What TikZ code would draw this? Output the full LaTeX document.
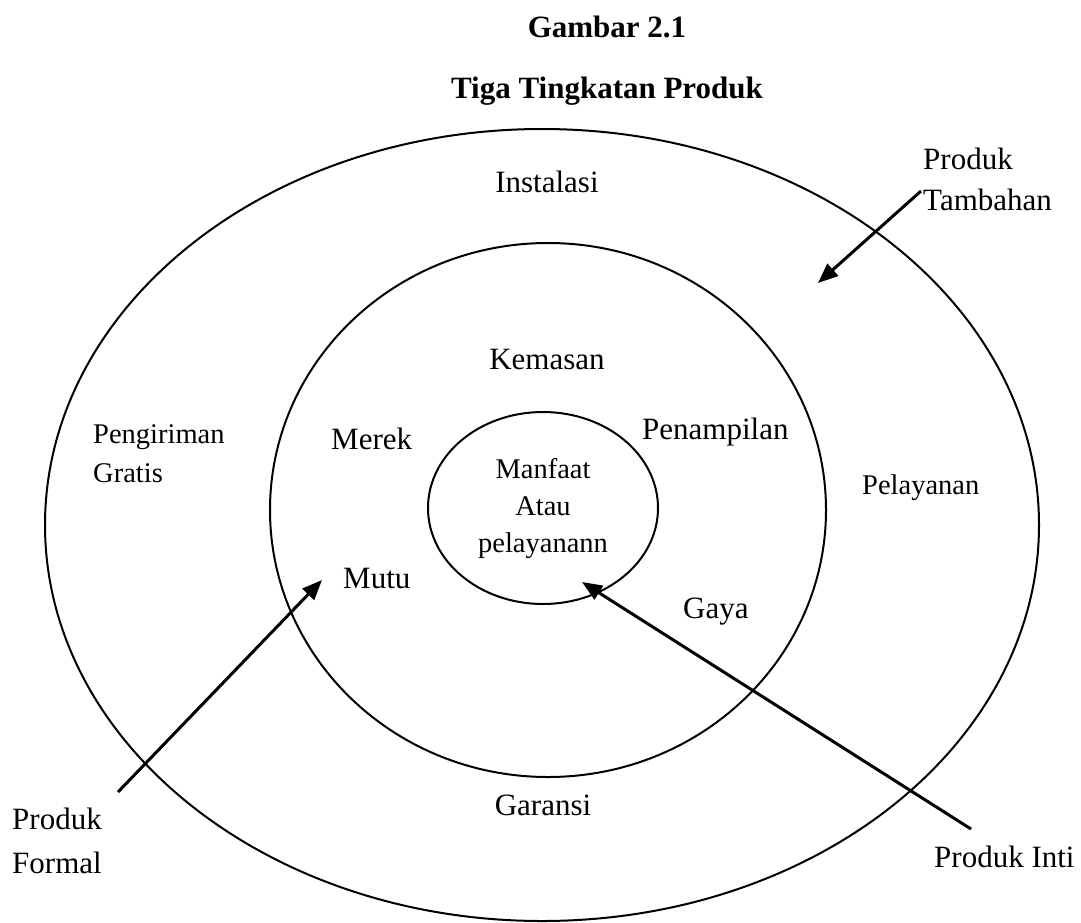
\documentclass[tikz,border=0pt]{standalone}
\usepackage{fontspec}
\setmainfont{Liberation Serif}
\usetikzlibrary{arrows.meta,positioning}

\begin{document}
\begin{tikzpicture}[x=1pt, y=-1pt,
  ring/.style = {line width=2pt},
  pointer/.style = {line width=3pt, -{Triangle[length=20pt, width=16pt]}},
  title/.style = {font=\bfseries\fontsize{31}{40}\selectfont, inner sep=0pt, anchor=base},
  big/.style = {font=\fontsize{31}{41}\selectfont, inner sep=0pt, anchor=base west, align=left},
  small/.style = {font=\fontsize{28.5}{39}\selectfont, inner sep=0pt, anchor=base west, align=left}]
\useasboundingbox (0,0) rectangle (1081,922);
\node[title] (gambar) at (607,37) {Gambar 2.1};
\node[title] (judul) at (607,98) {Tiga Tingkatan Produk};
\draw[ring] (542,525) ellipse [x radius=497, y radius=396];
\draw[ring] (548,510) ellipse [x radius=278, y radius=267];
\draw[ring] (543,508) ellipse [x radius=115, y radius=96];
\node[big, anchor=base] (instalasi) at (547,192) {Instalasi};
\node[big] (tambahan) at (923,210) {Produk\\Tambahan};
\node[big, anchor=base] (kemasan) at (547,369) {Kemasan};
\node[small] (pengiriman) at (93,482) {Pengiriman\\Gratis};
\node[big] (merek) at (331,449) {Merek};
\node[big] (penampilan) at (642,439) {Penampilan};
\node[small, anchor=base, align=center, font=\fontsize{28.5}{37}\selectfont] (manfaat) at (543,552) {Manfaat\\Atau\\pelayanann};
\node[small] (pelayanan) at (862,494) {Pelayanan};
\node[big] (mutu) at (343,588) {Mutu};
\node[big] (gaya) at (683,618) {Gaya};
\node[big, anchor=base] (garansi) at (543,815) {Garansi};
\node[big, fill=white, anchor=north west, text width=148pt, inner xsep=12pt, inner ysep=16pt,
  font=\fontsize{31}{44}\selectfont] (formal) at (0,792) {Produk\\Formal};
\node[big] (inti) at (934,867) {Produk Inti};
\coordinate (tambahan tail) at (921,191);
\coordinate (tambahan tip) at (818,283);
\coordinate (formal tip) at (322,580);
\coordinate (inti tail) at (971,829);
\coordinate (inti tip) at (582,582);
\draw[pointer] (tambahan tail) -- (tambahan tip);
\draw[pointer] ([xshift=118pt]formal.north west) -- (formal tip);
\draw[pointer] (inti tail) -- (inti tip);
\end{tikzpicture}
\end{document}
